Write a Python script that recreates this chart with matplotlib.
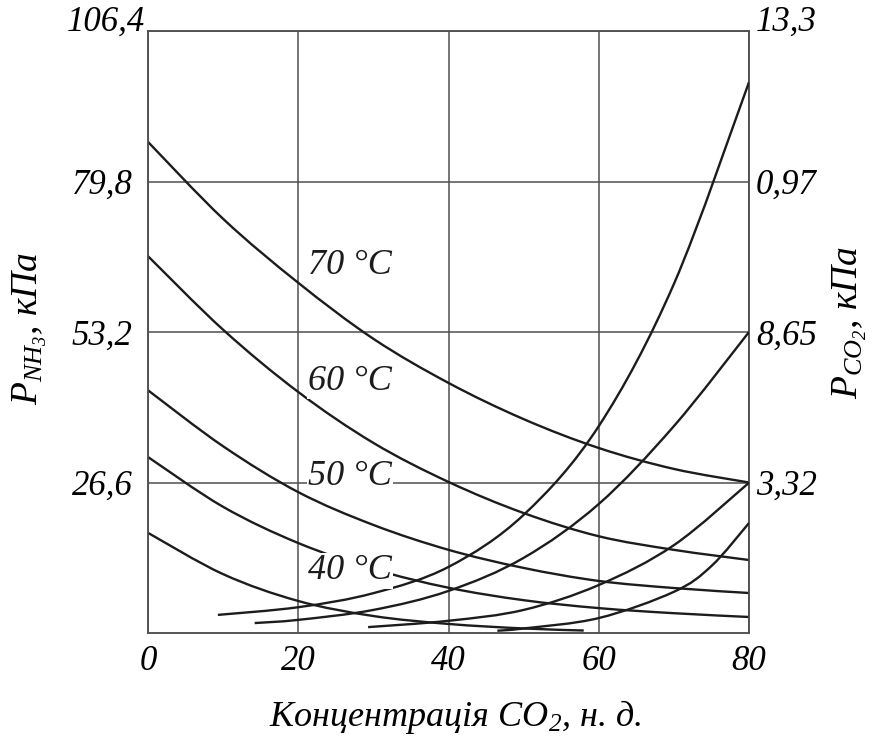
import matplotlib
matplotlib.use("Agg")
import matplotlib.pyplot as plt
from matplotlib.path import Path
from matplotlib.patches import PathPatch
from matplotlib.transforms import ScaledTranslation

plt.rcParams['font.family'] = ['Liberation Serif', 'DejaVu Serif']
plt.rcParams['font.style'] = 'italic'
plt.rcParams['mathtext.fontset'] = 'custom'
plt.rcParams['mathtext.rm'] = 'Liberation Serif:italic'
plt.rcParams['mathtext.it'] = 'Liberation Serif:italic'

# Axes ticks
x_ticks = [0, 20, 40, 60, 80]
nh3_ticks = [26.6, 53.2, 79.8, 106.4]
nh3_tick_labels = ["26,6", "53,2", "79,8", "106,4"]
co2_ticks = [3.325, 6.65, 9.975, 13.3]
co2_tick_labels = ["3,32", "8,65", "0,97", "13,3"]

# NH3 partial pressure over solution, kPa (left axis)
nh3_70_x = [0, 10, 20, 30, 40, 50, 60, 70, 80]
nh3_70_p = [86.8, 73.2, 61.9, 52.0, 44.2, 37.8, 32.7, 29.0, 26.6]

nh3_60_x = [0, 10, 20, 30, 40, 50, 60, 70, 80]
nh3_60_p = [66.6, 53.6, 42.6, 33.6, 26.7, 21.2, 17.1, 14.7, 12.9]

nh3_50_x = [0, 10, 20, 30, 40, 50, 60, 70, 80]
nh3_50_p = [42.9, 33.0, 24.9, 19.1, 14.7, 11.5, 9.2, 7.95, 7.07]

nh3_40_x = [0, 10, 20, 30, 40, 50, 60, 70, 80]
nh3_40_p = [31.1, 22.3, 15.9, 11.3, 8.0, 5.8, 4.4, 3.5, 2.83]

nh3_30_x = [0, 10, 20, 30, 40, 50, 58]
nh3_30_p = [17.7, 10.4, 5.66, 3.0, 1.6, 0.8, 0.44]

# CO2 partial pressure over solution, kPa (right axis)
co2_70_x = [9.3, 20, 30, 40, 50, 60, 70, 80]
co2_70_p = [0.40, 0.57, 0.88, 1.46, 2.61, 4.57, 7.71, 12.17]

co2_60_x = [14.2, 20, 30, 40, 50, 60, 70, 80]
co2_60_p = [0.22, 0.29, 0.51, 0.93, 1.66, 2.85, 4.57, 6.65]

co2_50_x = [29.3, 40, 50, 60, 70, 80]
co2_50_p = [0.13, 0.27, 0.51, 1.06, 1.94, 3.32]

co2_40_x = [46.5, 50, 60, 70, 75, 80]
co2_40_p = [0.05, 0.10, 0.33, 0.91, 1.48, 2.43]

temp_labels = ["70 °C", "60 °C", "50 °C", "40 °C"]
label_x = [26.9, 26.9, 26.9, 26.9]
label_p = [64.9, 44.5, 27.7, 11.0]

line_color = '#1c1c1c'
grid_color = '#505050'


def smooth_curve(axis, xs, ys, **kw):
    """Draw a smooth curve (cubic Bezier segments) through the given points."""
    pts = list(zip(xs, ys))
    n = len(pts)
    verts = [pts[0]]
    codes = [Path.MOVETO]
    for i in range(n - 1):
        p0 = pts[i - 1] if i > 0 else pts[i]
        p1 = pts[i]
        p2 = pts[i + 1]
        p3 = pts[i + 2] if i + 2 < n else pts[i + 1]
        c1 = (p1[0] + (p2[0] - p0[0]) / 6, p1[1] + (p2[1] - p0[1]) / 6)
        c2 = (p2[0] - (p3[0] - p1[0]) / 6, p2[1] - (p3[1] - p1[1]) / 6)
        verts += [c1, c2, p2]
        codes += [Path.CURVE4] * 3
    patch = PathPatch(Path(verts, codes), fill=False, capstyle='butt', **kw)
    axis.add_patch(patch)


fig = plt.figure(figsize=(8.77, 7.44), dpi=100)
ax = fig.add_axes([148 / 877, 1 - 633 / 744, 601 / 877, 602 / 744])
ax2 = ax.twinx()

ax.set_xlim(0, 80)
ax.set_ylim(0, 106.4)
ax2.set_ylim(0, 13.3)

ax.set_xticks(x_ticks)
ax.set_xticklabels([str(v) for v in x_ticks])
ax.set_yticks(nh3_ticks)
ax.set_yticklabels(nh3_tick_labels)
ax2.set_yticks(co2_ticks)
ax2.set_yticklabels(co2_tick_labels)

ax.grid(True, color=grid_color, lw=1.1)
ax.set_axisbelow(True)
for a in (ax, ax2):
    for s in a.spines.values():
        s.set_color(grid_color)
        s.set_linewidth(1.1)

ax.tick_params(axis='x', length=0, pad=9, labelsize=25)
ax.tick_params(axis='y', length=0, pad=11, labelsize=25)
ax2.tick_params(axis='y', length=0, pad=5, labelsize=25)

for xs, ps in [(nh3_70_x, nh3_70_p), (nh3_60_x, nh3_60_p), (nh3_50_x, nh3_50_p),
               (nh3_40_x, nh3_40_p), (nh3_30_x, nh3_30_p)]:
    smooth_curve(ax, xs, ps, edgecolor=line_color, lw=1.7, zorder=3)

for xs, ps in [(co2_70_x, co2_70_p), (co2_60_x, co2_60_p), (co2_50_x, co2_50_p),
               (co2_40_x, co2_40_p)]:
    smooth_curve(ax2, xs, ps, edgecolor=line_color, lw=1.7, zorder=3)

for t, lx, lp in zip(temp_labels, label_x, label_p):
    ax2.text(lx, lp, t, transform=ax.transData, ha='center', va='center',
             fontsize=26, color='#1c1c1c', zorder=10,
             bbox=dict(facecolor='white', edgecolor='none', pad=1))

# top tick labels sit on the frame line
top_left = ax.get_yticklabels()[-1]
top_left.set_va('baseline')
top_left.set_transform(top_left.get_transform() +
                       ScaledTranslation(0.12, 0, fig.dpi_scale_trans))
top_right = ax2.get_yticklabels()[-1]
top_right.set_va('baseline')

ax.set_xlabel('Концентрація CO$_2$, н. д.', fontsize=26)
ax.xaxis.set_label_coords(0.511, -0.108)
ax.set_ylabel('$P_{NH_3}$, кПа', fontsize=27, va='center', ha='center')
ax.yaxis.set_label_coords(-0.196, 0.505)
ax2.set_ylabel('$P_{CO_2}$, кПа', fontsize=27, va='center', ha='center', rotation=90)
ax2.yaxis.set_label_coords(1.168, 0.515)

fig.savefig('out.png', dpi=100, facecolor='white')
